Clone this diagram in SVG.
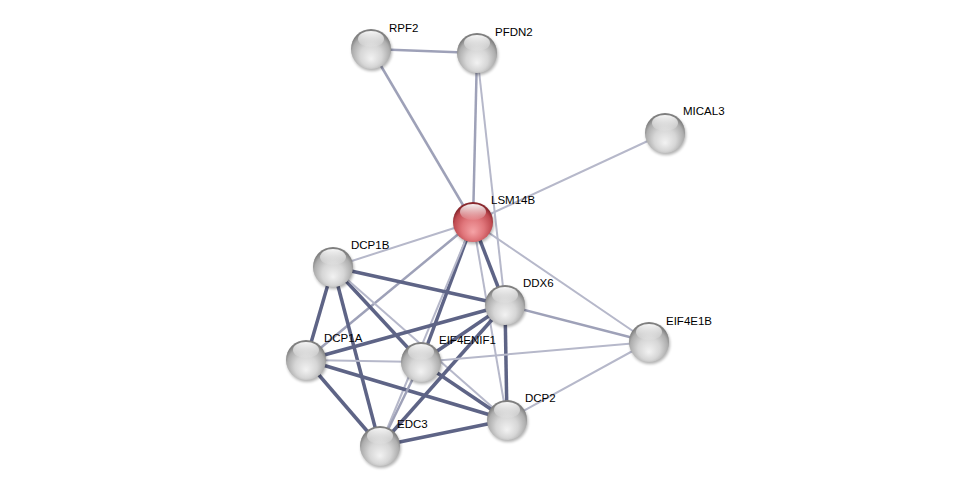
<svg xmlns="http://www.w3.org/2000/svg" xmlns:xlink="http://www.w3.org/1999/xlink" width="975" height="491" viewBox="0 0 975 491">
<style>
.e1{stroke:#b6b8ca;stroke-width:2;fill:none}
.e2{stroke:#9ea1b8;stroke-width:2.5;fill:none}
.e3{stroke:#5e6486;stroke-width:3.5;fill:none}
.lbl{font-family:"Liberation Sans",Arial,sans-serif;font-size:11.5px;fill:#000}
</style>
<defs>
<radialGradient id="gGray" cx="50%" cy="60%" r="55%" fx="50%" fy="75%">
<stop offset="0" stop-color="#f2f2f2"/>
<stop offset="0.5" stop-color="#d6d6d6"/>
<stop offset="0.85" stop-color="#adadad"/>
<stop offset="1" stop-color="#7f7f7f"/>
</radialGradient>
<radialGradient id="gRed" cx="50%" cy="60%" r="55%" fx="50%" fy="75%">
<stop offset="0" stop-color="#f5a3a6"/>
<stop offset="0.5" stop-color="#e0767b"/>
<stop offset="0.85" stop-color="#c04c52"/>
<stop offset="1" stop-color="#8a282e"/>
</radialGradient>
<linearGradient id="gHi" x1="0" y1="0" x2="0" y2="1">
<stop offset="0" stop-color="#ffffff" stop-opacity="0.95"/>
<stop offset="1" stop-color="#ffffff" stop-opacity="0.05"/>
</linearGradient>
<filter id="sh" x="-50%" y="-50%" width="200%" height="200%">
<feGaussianBlur stdDeviation="1.5"/>
</filter>
<g id="sGray">
<circle cx="1" cy="2" r="20" fill="#000" opacity="0.3" filter="url(#sh)"/>
<circle r="20" fill="url(#gGray)"/>
<ellipse cx="0" cy="-10" rx="13" ry="8" fill="url(#gHi)"/>
</g>
<g id="sRed">
<circle cx="1" cy="2" r="20" fill="#000" opacity="0.3" filter="url(#sh)"/>
<circle r="20" fill="url(#gRed)"/>
<ellipse cx="0" cy="-10" rx="13" ry="8" fill="url(#gHi)"/>
</g>
</defs>
<rect width="975" height="491" fill="#ffffff"/>
<g id="edges">
<line class="e2" x1="371" y1="49" x2="477" y2="53"/>
<line class="e2" x1="371" y1="49" x2="473" y2="222"/>
<line class="e2" x1="477" y1="53" x2="473" y2="222"/>
<line class="e1" x1="477" y1="53" x2="505" y2="305"/>
<line class="e1" x1="665" y1="133" x2="473" y2="222"/>
<line class="e1" x1="473" y1="222" x2="333" y2="267"/>
<line class="e1" x1="473" y1="222" x2="649" y2="342"/>
<line class="e3" x1="473" y1="222" x2="505" y2="305"/>
<line class="e2" x1="473" y1="222" x2="306" y2="360"/>
<line class="e3" x1="473" y1="222" x2="421" y2="362"/>
<line class="e1" x1="473" y1="222" x2="380" y2="446"/>
<line class="e1" x1="473" y1="222" x2="507" y2="420"/>
<line class="e3" x1="333" y1="267" x2="505" y2="305"/>
<line class="e3" x1="333" y1="267" x2="306" y2="360"/>
<line class="e3" x1="333" y1="267" x2="421" y2="362"/>
<line class="e3" x1="333" y1="267" x2="380" y2="446"/>
<line class="e1" x1="333" y1="267" x2="507" y2="420"/>
<line class="e3" x1="505" y1="305" x2="306" y2="360"/>
<line class="e3" x1="505" y1="305" x2="421" y2="362"/>
<line class="e3" x1="505" y1="305" x2="380" y2="446"/>
<line class="e3" x1="505" y1="305" x2="507" y2="420"/>
<line class="e2" x1="505" y1="305" x2="649" y2="342"/>
<line class="e1" x1="306" y1="360" x2="421" y2="362"/>
<line class="e1" x1="421" y1="362" x2="649" y2="342"/>
<line class="e3" x1="306" y1="360" x2="507" y2="420"/>
<line class="e3" x1="306" y1="360" x2="380" y2="446"/>
<line class="e2" x1="421" y1="362" x2="380" y2="446"/>
<line class="e3" x1="421" y1="362" x2="507" y2="420"/>
<line class="e3" x1="380" y1="446" x2="507" y2="420"/>
<line class="e1" x1="507" y1="420" x2="649" y2="342"/>
</g>
<g id="RPF2"><use href="#sGray" x="371" y="49"/><text class="lbl" x="389" y="32">RPF2</text></g>
<g id="PFDN2"><use href="#sGray" x="477" y="53"/><text class="lbl" x="495" y="36">PFDN2</text></g>
<g id="MICAL3"><use href="#sGray" x="665" y="133"/><text class="lbl" x="683" y="115">MICAL3</text></g>
<g id="LSM14B"><use href="#sRed" x="473" y="222"/><text class="lbl" x="491" y="204">LSM14B</text></g>
<g id="DCP1B"><use href="#sGray" x="333" y="267"/><text class="lbl" x="351" y="249">DCP1B</text></g>
<g id="DDX6"><use href="#sGray" x="505" y="305"/><text class="lbl" x="523" y="287">DDX6</text></g>
<g id="EIF4E1B"><use href="#sGray" x="649" y="342"/><text class="lbl" x="666" y="325">EIF4E1B</text></g>
<g id="DCP1A"><use href="#sGray" x="306" y="360"/><text class="lbl" x="324" y="342">DCP1A</text></g>
<g id="EIF4ENIF1"><use href="#sGray" x="421" y="362"/><text class="lbl" x="439" y="344">EIF4ENIF1</text></g>
<g id="DCP2"><use href="#sGray" x="507" y="420"/><text class="lbl" x="525" y="402">DCP2</text></g>
<g id="EDC3"><use href="#sGray" x="380" y="446"/><text class="lbl" x="397" y="428">EDC3</text></g>
</svg>
